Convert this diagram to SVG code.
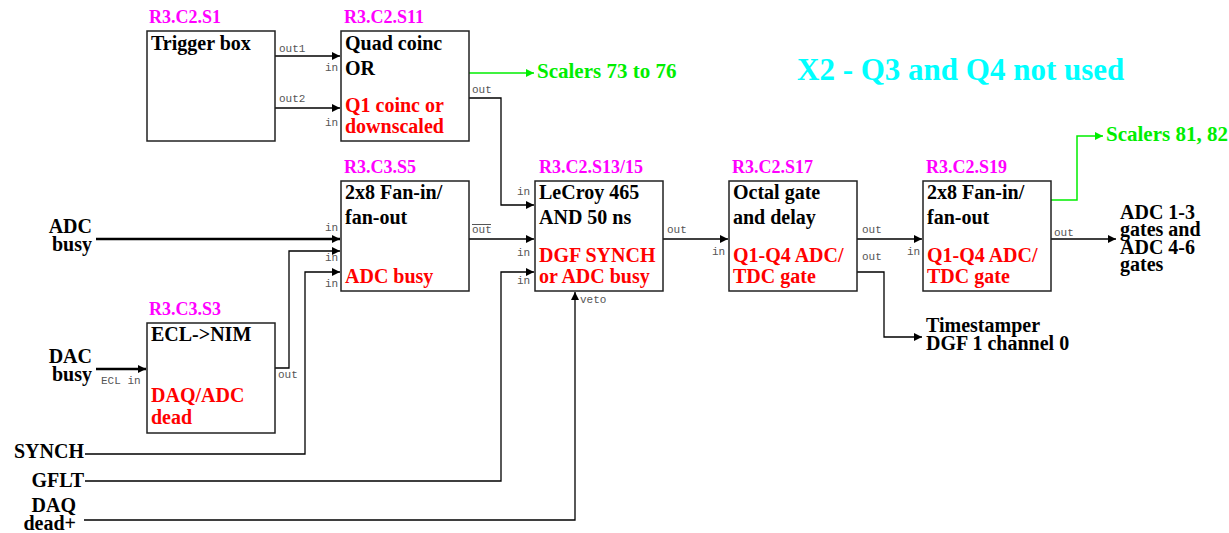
<svg xmlns="http://www.w3.org/2000/svg" width="1229" height="533" viewBox="0 0 1229 533">
<style>
.box{fill:#fff;stroke:#222;stroke-width:1.5}
.t{font-family:"Liberation Serif","Times New Roman",serif;font-weight:bold;font-size:20px;fill:#000}
.r{fill:#ff0000}
.id{font-family:"Liberation Serif","Times New Roman",serif;font-weight:bold;font-size:18px;fill:#ff00ff}
.g{font-family:"Liberation Serif","Times New Roman",serif;font-weight:bold;font-size:21px;fill:#00ee00}
.p{font-family:"Liberation Mono","Courier New",monospace;font-size:11px;fill:#555}
.c{fill:none;stroke:#000;stroke-width:1.3}
.k{fill:none;stroke:#000;stroke-width:2.4}
.gc{fill:none;stroke:#00ee00;stroke-width:1.5}
</style>
<defs>
<marker id="a" markerUnits="userSpaceOnUse" markerWidth="9" markerHeight="9" refX="8" refY="4" orient="auto"><path d="M0,0 L8,4 L0,8 z" fill="#000"/></marker>
<marker id="ag" markerUnits="userSpaceOnUse" markerWidth="9" markerHeight="9" refX="8" refY="4" orient="auto"><path d="M0,0 L8,4 L0,8 z" fill="#00ee00"/></marker>
</defs>
<text x="797" y="80" font-family="Liberation Serif,Times New Roman,serif" font-weight="bold" font-size="31" fill="#00ffff">X2 - Q3 and Q4 not used</text>
<g id="connectors">
<path class="c" d="M275,56 H340" marker-end="url(#a)"/>
<path class="c" d="M275,108 H340" marker-end="url(#a)"/>
<path class="gc" d="M469,73 H534" marker-end="url(#ag)"/>
<path class="c" d="M469,98 H501 V205 H534" marker-end="url(#a)"/>
<path class="k" d="M96,239 H340" marker-end="url(#a)"/>
<path class="c" d="M275,368 H289 V251 H340" marker-end="url(#a)"/>
<path class="c" d="M85,454 H305 V272 H340" marker-end="url(#a)"/>
<path class="k" d="M96,369 H146" marker-end="url(#a)"/>
<path class="c" d="M469,239 H534" marker-end="url(#a)"/>
<path class="c" d="M85,481 H501 V272 H534" marker-end="url(#a)"/>
<path class="c" d="M84,520 H575 V292" marker-end="url(#a)"/>
<path class="c" d="M663,239 H728" marker-end="url(#a)"/>
<path class="c" d="M857,239 H922" marker-end="url(#a)"/>
<path class="c" d="M857,272 H884 V337 H922" marker-end="url(#a)"/>
<path class="gc" d="M1051,200 H1077 V136 H1103" marker-end="url(#ag)"/>
<path class="c" d="M1051,239 H1116" marker-end="url(#a)"/>
<text class="p" x="279" y="52">out1</text>
<text class="p" x="325" y="71">in</text>
<text class="p" x="279" y="102">out2</text>
<text class="p" x="325" y="126">in</text>
<text class="p" x="472" y="93">out</text>
<text class="p" x="325" y="231">in</text>
<text class="p" x="325" y="261">in</text>
<text class="p" x="325" y="287">in</text>
<text class="p" x="472" y="233">out</text>
<line x1="472" y1="224.5" x2="491" y2="224.5" stroke="#555" stroke-width="1"/>
<text class="p" x="517" y="195">in</text>
<text class="p" x="517" y="256">in</text>
<text class="p" x="517" y="284">in</text>
<text class="p" x="580" y="303">veto</text>
<text class="p" x="667" y="233">out</text>
<text class="p" x="712" y="255">in</text>
<text class="p" x="862" y="233">out</text>
<text class="p" x="862" y="260">out</text>
<text class="p" x="907" y="255">in</text>
<text class="p" x="1054" y="236">out</text>
<text class="p" x="101" y="384">ECL in</text>
<text class="p" x="278" y="378">out</text>
</g>
<g id="lbl-adcbusy"><text class="t" text-anchor="end" x="92" y="233">ADC</text><text class="t" text-anchor="end" x="92" y="251">busy</text></g>
<g id="lbl-dacbusy"><text class="t" text-anchor="end" x="92" y="363">DAC</text><text class="t" text-anchor="end" x="92" y="381">busy</text></g>
<g id="lbl-synch"><text class="t" text-anchor="end" x="84" y="458">SYNCH</text></g>
<g id="lbl-gflt"><text class="t" text-anchor="end" x="84" y="487">GFLT</text></g>
<g id="lbl-daqdead"><text class="t" text-anchor="end" x="76" y="512">DAQ</text><text class="t" text-anchor="end" x="76" y="530">dead+</text></g>
<g id="lbl-scalers7376"><text class="g" x="537" y="78">Scalers 73 to 76</text></g>
<g id="lbl-scalers8182"><text class="g" x="1106" y="141">Scalers 81, 82</text></g>
<g id="lbl-timestamper"><text class="t" x="926" y="332">Timestamper</text><text class="t" x="926" y="350">DGF 1 channel 0</text></g>
<g id="lbl-adcgates"><text class="t" x="1120" y="219">ADC 1-3</text><text class="t" x="1120" y="236">gates and</text><text class="t" x="1120" y="254">ADC 4-6</text><text class="t" x="1120" y="271">gates</text></g>
<g id="S1"><text class="id" x="149" y="23">R3.C2.S1</text><rect class="box" x="147" y="31" width="128" height="110"/><text class="t" x="151" y="50">Trigger box</text></g>
<g id="S11"><text class="id" x="344" y="23">R3.C2.S11</text><rect class="box" x="341" y="31" width="128" height="110"/><text class="t" x="345" y="50">Quad coinc</text><text class="t" x="345" y="75">OR</text><text class="t r" x="345" y="112">Q1 coinc or</text><text class="t r" x="345" y="133">downscaled</text></g>
<g id="S5"><text class="id" x="344" y="173">R3.C3.S5</text><rect class="box" x="341" y="181" width="128" height="110"/><text class="t" x="345" y="199">2x8 Fan-in/</text><text class="t" x="345" y="224">fan-out</text><text class="t r" x="345" y="283">ADC busy</text></g>
<g id="S13"><text class="id" x="539" y="173">R3.C2.S13/15</text><rect class="box" x="535" y="181" width="128" height="110"/><text class="t" x="539" y="199">LeCroy 465</text><text class="t" x="539" y="224">AND 50 ns</text><text class="t r" x="539" y="262">DGF SYNCH</text><text class="t r" x="539" y="283">or ADC busy</text></g>
<g id="S17"><text class="id" x="732" y="173">R3.C2.S17</text><rect class="box" x="729" y="181" width="128" height="110"/><text class="t" x="733" y="199">Octal gate</text><text class="t" x="733" y="224">and delay</text><text class="t r" x="733" y="262">Q1-Q4 ADC/</text><text class="t r" x="733" y="283">TDC gate</text></g>
<g id="S19"><text class="id" x="926" y="173">R3.C2.S19</text><rect class="box" x="923" y="181" width="128" height="110"/><text class="t" x="927" y="199">2x8 Fan-in/</text><text class="t" x="927" y="224">fan-out</text><text class="t r" x="927" y="262">Q1-Q4 ADC/</text><text class="t r" x="927" y="283">TDC gate</text></g>
<g id="S3"><text class="id" x="149" y="315">R3.C3.S3</text><rect class="box" x="147" y="323" width="128" height="110"/><text class="t" x="151" y="341">ECL-&gt;NIM</text><text class="t r" x="151" y="402">DAQ/ADC</text><text class="t r" x="151" y="424">dead</text></g>
</svg>
